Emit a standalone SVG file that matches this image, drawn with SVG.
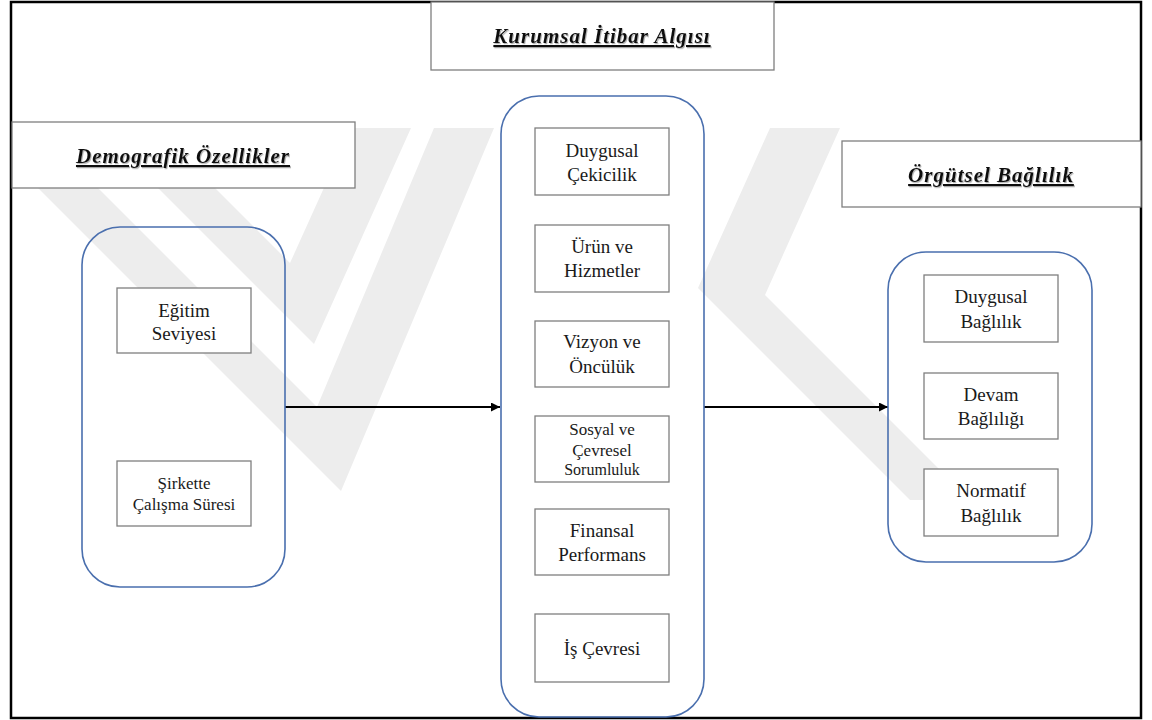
<svg xmlns="http://www.w3.org/2000/svg" width="1152" height="720" viewBox="0 0 1152 720">
  <defs>
    <style>
      .frame { fill: none; stroke: #000; stroke-width: 2.5; }
      .title-box { fill: #fff; stroke: #7f7f7f; stroke-width: 1.3; }
      .title { font-family: 'Liberation Serif', 'Tinos', 'DejaVu Serif', serif; font-weight: bold; font-style: italic; font-size: 21px; letter-spacing: 1px; text-decoration: underline; fill: #111; text-anchor: middle; filter: url(#soft-shadow); }
      .group-box { fill: none; stroke: #4a6fae; stroke-width: 1.6; }
      .item-box { fill: #fff; stroke: #7f7f7f; stroke-width: 1.3; }
      .item { font-family: 'Liberation Serif', 'Tinos', 'DejaVu Serif', serif; font-size: 19px; fill: #1a1a1a; text-anchor: middle; }
      .item-sm { font-size: 17px; }
      .item-xs { font-size: 16px; }
      .connector { stroke: #000; stroke-width: 2; fill: none; marker-end: url(#arrow); }
      .mark { fill: #ededed; }
    </style>
    <filter id="soft-shadow" x="-5%" y="-20%" width="110%" height="150%">
      <feDropShadow dx="1" dy="1.2" stdDeviation="0.6" flood-color="#777" flood-opacity="0.55"/>
    </filter>
    <marker id="arrow" viewBox="0 0 10 10" refX="10" refY="5" markerWidth="4.5" markerHeight="4.5" orient="auto" markerUnits="strokeWidth">
      <path d="M0,0 L10,5 L0,10 z" fill="#000"/>
    </marker>
    <clipPath id="page">
      <rect x="12" y="3" width="1128" height="714"/>
    </clipPath>
  </defs>

  <rect x="0" y="0" width="1152" height="720" fill="#fff"/>

  <!-- faint background emblem -->
  <g id="emblem" clip-path="url(#page)">
    <polygon class="mark" points="98,128 155,128 290,263 351,128 411,128 314,344"/>
    <polygon class="mark" points="-22,128 38,128 317,407 434,128 494,128 341,491"/>
    <polygon class="mark" points="770,128 840,128 765,295 970,500 910,500 698,288"/>
  </g>

  <!-- outer frame -->
  <rect class="frame" x="11" y="2" width="1130" height="716"/>

  <!-- section headings -->
  <g id="heading-kurumsal">
    <rect class="title-box" x="431" y="2" width="343" height="68"/>
    <text class="title" x="602" y="43">Kurumsal İtibar Algısı</text>
  </g>
  <g id="heading-demografik">
    <rect class="title-box" x="12" y="122" width="343" height="66"/>
    <text class="title" x="183" y="163">Demografik Özellikler</text>
  </g>
  <g id="heading-orgutsel">
    <rect class="title-box" x="842" y="141" width="299" height="66"/>
    <text class="title" x="991" y="182">Örgütsel Bağlılık</text>
  </g>

  <!-- connectors -->
  <g id="connectors">
    <line class="connector" x1="285" y1="407" x2="500" y2="407"/>
    <line class="connector" x1="704" y1="407" x2="888" y2="407"/>
  </g>

  <!-- demographic group -->
  <g id="group-demografik">
    <rect class="group-box" x="82" y="227" width="203" height="360" rx="38" ry="38"/>
  </g>
  <g id="node-egitim">
    <rect class="item-box" x="117" y="288" width="134" height="65"/>
    <text class="item" x="184" y="317">Eğitim</text>
    <text class="item" x="184" y="340">Seviyesi</text>
  </g>
  <g id="node-calisma">
    <rect class="item-box" x="117" y="461" width="134" height="65"/>
    <text class="item item-sm" x="184" y="489">Şirkette</text>
    <text class="item item-sm" x="184" y="510">Çalışma Süresi</text>
  </g>

  <!-- corporate reputation group -->
  <g id="group-kurumsal">
    <rect class="group-box" x="501" y="96" width="203" height="621" rx="38" ry="38"/>
  </g>
  <g id="node-duygusal-cekicilik">
    <rect class="item-box" x="535" y="128" width="134" height="67"/>
    <text class="item" x="602" y="157">Duygusal</text>
    <text class="item" x="602" y="181">Çekicilik</text>
  </g>
  <g id="node-urun">
    <rect class="item-box" x="535" y="225" width="134" height="67"/>
    <text class="item" x="602" y="253">Ürün ve</text>
    <text class="item" x="602" y="277">Hizmetler</text>
  </g>
  <g id="node-vizyon">
    <rect class="item-box" x="535" y="321" width="134" height="66"/>
    <text class="item" x="602" y="348">Vizyon ve</text>
    <text class="item" x="602" y="373">Öncülük</text>
  </g>
  <g id="node-sosyal">
    <rect class="item-box" x="535" y="416" width="134" height="66"/>
    <text class="item item-sm" x="602" y="435">Sosyal ve</text>
    <text class="item item-sm" x="602" y="456">Çevresel</text>
    <text class="item item-xs" x="602" y="475">Sorumluluk</text>
  </g>
  <g id="node-finansal">
    <rect class="item-box" x="535" y="509" width="134" height="66"/>
    <text class="item" x="602" y="537">Finansal</text>
    <text class="item" x="602" y="561">Performans</text>
  </g>
  <g id="node-is-cevresi">
    <rect class="item-box" x="535" y="614" width="134" height="68"/>
    <text class="item" x="602" y="655">İş Çevresi</text>
  </g>

  <!-- organisational commitment group -->
  <g id="group-orgutsel">
    <rect class="group-box" x="888" y="252" width="204" height="310" rx="38" ry="38"/>
  </g>
  <g id="node-duygusal-baglilik">
    <rect class="item-box" x="924" y="275" width="134" height="67"/>
    <text class="item" x="991" y="303">Duygusal</text>
    <text class="item" x="991" y="328">Bağlılık</text>
  </g>
  <g id="node-devam">
    <rect class="item-box" x="924" y="373" width="134" height="66"/>
    <text class="item" x="991" y="401">Devam</text>
    <text class="item" x="991" y="425">Bağlılığı</text>
  </g>
  <g id="node-normatif">
    <rect class="item-box" x="924" y="469" width="134" height="67"/>
    <text class="item" x="991" y="497">Normatif</text>
    <text class="item" x="991" y="522">Bağlılık</text>
  </g>
</svg>
